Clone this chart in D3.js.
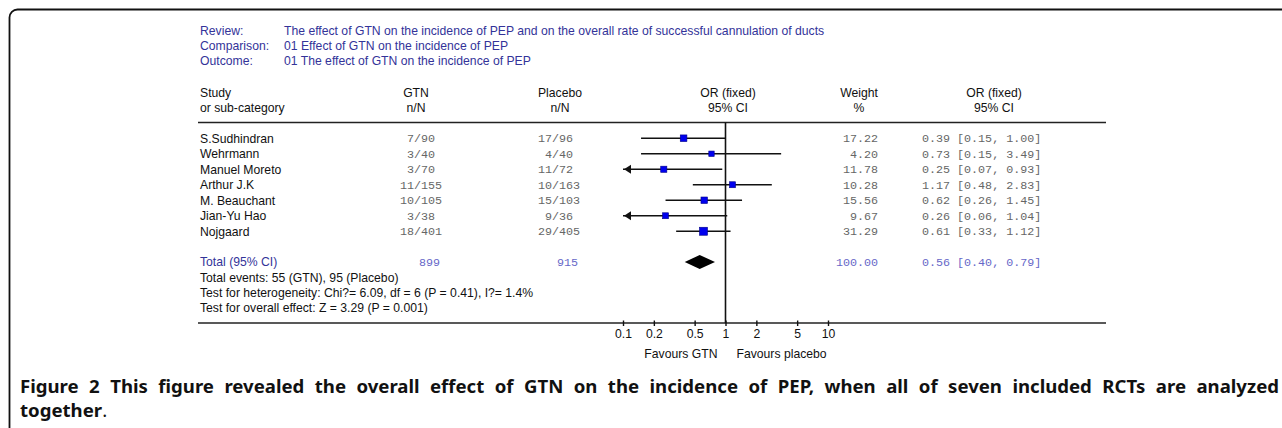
<!DOCTYPE html>
<html>
<head>
<meta charset="utf-8">
<script src="https://cdn.jsdelivr.net/npm/d3@7"></script>
<style>
  body { margin: 0; background: #fff; }
  svg { display: block; }
</style>
</head>
<body>
<script>
// Données
const studies = ["S.Sudhindran", "Wehrmann", "Manuel Moreto", "Arthur J.K", "M. Beauchant", "Jian-Yu Hao", "Nojgaard"];
const gtnEvents = [7, 3, 3, 11, 10, 3, 18];
const gtnTotal = [90, 40, 70, 155, 105, 38, 401];
const placeboEvents = [17, 4, 11, 10, 15, 9, 29];
const placeboTotal = [96, 40, 72, 163, 103, 36, 405];
const weights = [17.22, 4.20, 11.78, 10.28, 15.56, 9.67, 31.29];
const oddsRatio = [0.39, 0.73, 0.25, 1.17, 0.62, 0.26, 0.61];
const ciLow = [0.15, 0.15, 0.07, 0.48, 0.26, 0.06, 0.33];
const ciHigh = [1.00, 3.49, 0.93, 2.83, 1.45, 1.04, 1.12];
const total = { gtn: 899, placebo: 915, weight: 100.00, or: 0.56, lo: 0.40, hi: 0.79 };
const axisTicks = [0.1, 0.2, 0.5, 1, 2, 5, 10];

const headerLabels = ["Review:", "Comparison:", "Outcome:"];
const headerTexts = [
    "The effect of GTN on the incidence of PEP and on the overall rate of successful cannulation of ducts",
    "01 Effect of GTN on the incidence of PEP",
    "01 The effect of GTN on the incidence of PEP"
];
const footLines = [
    "Total events: 55 (GTN), 95 (Placebo)",
    "Test for heterogeneity: Chi?= 6.09, df = 6 (P = 0.41), I?= 1.4%",
    "Test for overall effect: Z = 3.29 (P = 0.001)"
];
const captionLabel = "Figure 2";
const captionText = "This figure revealed the overall effect of GTN on the incidence of PEP, when all of seven included RCTs are analyzed";

const rows = studies.map((s, i) => ({
    study: s, ge: gtnEvents[i], gn: gtnTotal[i], pe: placeboEvents[i], pn: placeboTotal[i],
    w: weights[i], or: oddsRatio[i], lo: ciLow[i], hi: ciHigh[i]
}));

const width = 1282, height = 428;
const sans = "'Liberation Sans', Arial, sans-serif";
const mono = "'Liberation Mono', 'Courier New', monospace";
const fs = '12.2px', fsMono = '11.7px';
const blue = "#333399", lightBlue = "#6767c8", grey = "#666";

const svg = d3.select('body')
    .append('svg')
    .attr('width', width)
    .attr('height', height);

// cadre arrondi
svg.append('rect')
    .attr('x', 9.5).attr('y', 9.5)
    .attr('width', 1300).attr('height', 440)
    .attr('rx', 8)
    .attr('fill', 'none')
    .attr('stroke', '#111')
    .attr('stroke-width', 1.8);

// Echelles
const x = d3.scaleLog().domain([0.1, 10]).range([623, 828]);
const y = d3.scaleBand().domain(studies).range([130.5, 239]);
const sq = d3.scaleLinear().domain([0, d3.max(weights)]).range([5, 8]);
const yTotal = 262;
const ruleTop = 122.5, ruleBottom = 323;

// En-tête
const head = svg.append('g').style('font-family', sans).style('font-size', fs).attr('fill', blue);
headerLabels.forEach((t, i) => {
    head.append('text').attr('x', 200).attr('y', 34.5 + i * 15).text(t);
    head.append('text').attr('x', 284).attr('y', 34.5 + i * 15).text(headerTexts[i]);
});

// Titres des colonnes
const cols = svg.append('g').style('font-family', sans).style('font-size', fs).attr('fill', '#111');
cols.append('text').attr('x', 200).attr('y', 97).text('Study');
cols.append('text').attr('x', 200).attr('y', 111.5).text('or sub-category');
[[416, 'GTN', 'n/N'], [560, 'Placebo', 'n/N'], [728, 'OR (fixed)', '95% CI'], [859, 'Weight', '%'], [994, 'OR (fixed)', '95% CI']]
    .forEach(([cx, a, b]) => {
        cols.append('text').attr('x', cx).attr('y', 97).attr('text-anchor', 'middle').text(a);
        cols.append('text').attr('x', cx).attr('y', 111.5).attr('text-anchor', 'middle').text(b);
    });

// filets horizontaux
svg.append('line').attr('x1', 198).attr('x2', 1106).attr('y1', ruleTop).attr('y2', ruleTop)
    .attr('stroke', '#222').attr('stroke-width', 1.6);
svg.append('line').attr('x1', 198).attr('x2', 1106).attr('y1', ruleBottom).attr('y2', ruleBottom)
    .attr('stroke', '#222').attr('stroke-width', 1.6);

// ligne verticale OR = 1
svg.append('line').attr('x1', x(1)).attr('x2', x(1)).attr('y1', ruleTop).attr('y2', ruleBottom)
    .attr('stroke', '#111').attr('stroke-width', 1.6);

// Lignes des études
const row = svg.append('g').selectAll('g')
    .data(rows)
    .join('g')
    .attr('transform', d => `translate(0, ${y(d.study) + y.bandwidth() / 2})`);

row.append('text').attr('x', 200).attr('y', 4.3)
    .style('font-family', sans).style('font-size', fs).attr('fill', '#111')
    .text(d => d.study);

const monoText = (sel, xx, anchor, fn) => sel.append('text')
    .attr('x', xx).attr('y', 4).attr('text-anchor', anchor)
    .style('font-family', mono).style('font-size', fsMono).attr('fill', grey)
    .text(fn);

monoText(row, 414, 'end', d => d.ge);
monoText(row, 414, 'start', d => '/' + d.gn);
monoText(row, 552, 'end', d => d.pe);
monoText(row, 552, 'start', d => '/' + d.pn);
monoText(row, 878, 'end', d => d.w.toFixed(2));
monoText(row, 922, 'start', d => `${d.or.toFixed(2)} [${d.lo.toFixed(2)}, ${d.hi.toFixed(2)}]`);

// intervalles de confiance
row.append('line')
    .attr('x1', d => x(Math.max(d.lo, 0.1)))
    .attr('x2', d => x(Math.min(d.hi, 10)))
    .attr('stroke', '#111').attr('stroke-width', 1.6);

// flèches quand l'IC sort de l'échelle
row.filter(d => d.lo < 0.1)
    .append('path')
    .attr('d', d => {
        const x0 = x(0.1) + 1;
        return `M${x0},0 L${x0 + 7},-4.5 L${x0 + 7},4.5 Z`;
    })
    .attr('fill', '#111');

// carrés
row.append('rect')
    .attr('x', d => x(d.or) - sq(d.w) / 2)
    .attr('y', d => -sq(d.w) / 2)
    .attr('width', d => sq(d.w))
    .attr('height', d => sq(d.w))
    .attr('fill', '#0000ee')
    .attr('stroke', '#000088')
    .attr('stroke-width', 0.6);

// Total
const tot = svg.append('g').attr('transform', `translate(0, ${yTotal})`);
tot.append('text').attr('x', 200).attr('y', 4.3)
    .style('font-family', sans).style('font-size', fs).attr('fill', blue)
    .text('Total (95% CI)');
const totMono = (xx, anchor, t) => tot.append('text').attr('x', xx).attr('y', 4).attr('text-anchor', anchor)
    .style('font-family', mono).style('font-size', fsMono).attr('fill', lightBlue).text(t);
totMono(440, 'end', total.gtn);
totMono(578, 'end', total.placebo);
totMono(878, 'end', total.weight.toFixed(2));
totMono(922, 'start', `${total.or.toFixed(2)} [${total.lo.toFixed(2)}, ${total.hi.toFixed(2)}]`);

tot.append('path')
    .attr('d', `M${x(total.lo)},0 L${x(total.or)},-7 L${x(total.hi)},0 L${x(total.or)},7 Z`)
    .attr('fill', '#000');

svg.append('g').selectAll('text')
    .data(footLines)
    .join('text')
    .attr('x', 200)
    .attr('y', (d, i) => 281.5 + i * 15.3)
    .style('font-family', sans).style('font-size', fs).attr('fill', '#111')
    .text(d => d);

// Axe logarithmique
const axis = svg.append('g')
    .attr('transform', `translate(0, ${ruleBottom - 2.5})`)
    .call(d3.axisBottom(x).tickValues(axisTicks).tickSize(5.5).tickPadding(3.5).tickFormat(d => d));
axis.select('.domain').remove();
axis.selectAll('line').attr('stroke', '#111').attr('stroke-width', 1.4);
axis.selectAll('text').style('font-family', sans).style('font-size', fs).attr('fill', '#111');

svg.append('text').attr('x', x(1) - 8).attr('y', 358).attr('text-anchor', 'end')
    .style('font-family', sans).style('font-size', fs).attr('fill', '#111')
    .text('Favours GTN');
svg.append('text').attr('x', x(1) + 11).attr('y', 358)
    .style('font-family', sans).style('font-size', fs).attr('fill', '#111')
    .text('Favours placebo');

// Légende de la figure, justifiée par l'espacement des mots
const capX = 20, capRight = 1279;
const cap = svg.append('g').style('font-family', "'Noto Sans', sans-serif").style('font-size', '18.6px').attr('fill', '#111');
const line1 = cap.append('text').attr('x', capX).attr('y', 393)
    .style('font-weight', 'bold')
    .text(captionLabel + ' ' + captionText);
const natural = line1.node().getComputedTextLength();
const gaps = (captionLabel + ' ' + captionText).split(' ').length - 1;
line1.style('word-spacing', `${(capRight - capX - natural) / gaps}px`);
const line2 = cap.append('text').attr('x', capX).attr('y', 417);
line2.append('tspan').style('font-weight', 'bold').text('together');
line2.append('tspan').text('.');
</script>
</body>
</html>
